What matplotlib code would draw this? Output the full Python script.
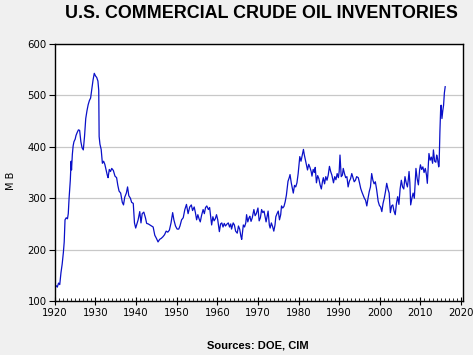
import matplotlib.pyplot as plt
from matplotlib.ticker import MultipleLocator

# readings taken off the chart (year, million barrels)
years = [1920.0, 1920.3, 1920.6, 1920.9, 1921.2, 1921.5, 1921.8, 1922.1, 1922.3, 1922.5,
         1922.8, 1923.1, 1923.3, 1923.5, 1923.8, 1924.0, 1924.1, 1924.3, 1924.5, 1924.7,
         1925.0, 1925.2, 1925.5, 1925.8, 1926.1, 1926.4, 1926.7, 1927.0, 1927.3, 1927.6,
         1927.9, 1928.2, 1928.5, 1928.8, 1929.1, 1929.4, 1929.7, 1930.0, 1930.3, 1930.6,
         1930.8, 1930.9, 1931.1, 1931.4, 1931.7, 1932.0, 1932.3, 1932.6, 1932.9, 1933.1,
         1933.4, 1933.7, 1934.0, 1934.4, 1934.8, 1935.2, 1935.5, 1935.8, 1936.2, 1936.6,
         1936.9, 1937.2, 1937.6, 1937.9, 1938.2, 1938.6, 1938.9, 1939.3, 1939.6, 1939.9,
         1940.2, 1940.5, 1940.9, 1941.2, 1941.5, 1941.9, 1942.3, 1942.6, 1943.0, 1943.4,
         1943.8, 1944.2, 1944.6, 1945.0, 1945.4, 1945.8, 1946.2, 1946.6, 1947.0, 1947.4,
         1947.8, 1948.2, 1948.6, 1949.0, 1949.3, 1949.7, 1950.1, 1950.5, 1950.8, 1951.2,
         1951.6, 1952.0, 1952.4, 1952.8, 1953.2, 1953.6, 1953.9, 1954.3, 1954.6, 1954.9,
         1955.2, 1955.5, 1955.8, 1956.1, 1956.5, 1956.8, 1957.1, 1957.4, 1957.8, 1958.1,
         1958.4, 1958.6, 1958.9, 1959.2, 1959.5, 1959.8, 1960.1, 1960.5, 1960.8, 1961.1,
         1961.4, 1961.7, 1962.0, 1962.4, 1962.7, 1963.0, 1963.3, 1963.5, 1963.9, 1964.2,
         1964.5, 1964.9, 1965.2, 1965.5, 1965.8, 1966.0, 1966.4, 1966.7, 1967.0, 1967.2,
         1967.5, 1967.8, 1968.0, 1968.3, 1968.6, 1969.0, 1969.3, 1969.6, 1970.0, 1970.3,
         1970.6, 1970.9, 1971.2, 1971.5, 1971.8, 1972.0, 1972.3, 1972.5, 1972.8, 1973.0,
         1973.3, 1973.6, 1973.9, 1974.2, 1974.4, 1974.7, 1975.0, 1975.3, 1975.6, 1975.8,
         1976.1, 1976.4, 1976.7, 1977.0, 1977.2, 1977.4, 1977.7, 1977.9, 1978.2, 1978.5,
         1978.7, 1979.0, 1979.3, 1979.6, 1979.9, 1980.1, 1980.3, 1980.6, 1980.9, 1981.2,
         1981.4, 1981.7, 1982.0, 1982.2, 1982.5, 1982.8, 1983.1, 1983.3, 1983.6, 1983.9,
         1984.1, 1984.4, 1984.7, 1985.0, 1985.3, 1985.6, 1985.9, 1986.1, 1986.4, 1986.7,
         1987.0, 1987.3, 1987.6, 1987.9, 1988.2, 1988.6, 1988.9, 1989.2, 1989.5, 1989.8,
         1990.0, 1990.2, 1990.5, 1990.8, 1991.0, 1991.3, 1991.6, 1991.9, 1992.2, 1992.5,
         1992.8, 1993.1, 1993.4, 1993.7, 1994.0, 1994.3, 1994.7, 1995.0, 1995.3, 1995.6,
         1995.9, 1996.2, 1996.5, 1996.8, 1997.1, 1997.4, 1997.7, 1998.0, 1998.3, 1998.6,
         1998.9, 1999.2, 1999.6, 1999.9, 2000.2, 2000.5, 2000.8, 2001.1, 2001.4, 2001.7,
         2002.0, 2002.3, 2002.6, 2002.9, 2003.2, 2003.5, 2003.8, 2004.1, 2004.4, 2004.7,
         2005.0, 2005.3, 2005.6, 2005.9, 2006.2, 2006.5, 2006.8, 2007.0, 2007.2, 2007.4,
         2007.6, 2007.9, 2008.2, 2008.5, 2008.9, 2009.2, 2009.5, 2009.8, 2010.0, 2010.3,
         2010.6, 2010.9, 2011.2, 2011.5, 2011.7, 2012.0, 2012.1, 2012.4, 2012.7, 2013.0,
         2013.2, 2013.5, 2013.8, 2014.0, 2014.2, 2014.5, 2014.6, 2014.8, 2015.0, 2015.1,
         2015.3, 2015.5, 2015.7, 2015.9, 2016.1]

mb = [128, 130, 127, 135, 132, 155, 172, 195, 215, 258,
      262, 260, 270, 300, 335, 372, 355, 385, 402, 410,
      415, 422, 428, 433, 432, 410, 398, 394, 420, 455,
      470, 482, 490, 495, 512, 530, 543, 538, 535, 528,
      510, 420, 405, 395, 368, 372, 366, 355, 345, 340,
      356, 352, 358, 354, 343, 340, 325, 314, 310, 292,
      287, 302, 310, 322, 305, 300, 292, 290, 252, 242,
      250, 258, 274, 252, 270, 273, 262, 251, 250, 248,
      246, 244, 228, 222, 215, 220, 222, 225, 229, 236,
      234, 238, 252, 272, 258, 246, 240, 240, 246, 258,
      262, 278, 288, 270, 283, 287, 276, 283, 272, 258,
      268, 260, 254, 266, 278, 270, 282, 285, 278, 282,
      262, 248, 264, 256, 260, 268, 258, 235, 250, 252,
      244, 251, 246, 250, 252, 244, 250, 240, 252, 248,
      236, 232, 246, 240, 226, 220, 248, 244, 252, 268,
      254, 262, 265, 255, 262, 278, 266, 270, 281, 256,
      262, 278, 272, 275, 262, 254, 266, 275, 248, 242,
      252, 245, 236, 248, 264, 270, 275, 258, 268, 285,
      281, 284, 293, 306, 320, 333, 340, 346, 330, 318,
      310, 325, 322, 330, 348, 365, 381, 372, 383, 395,
      385, 374, 362, 355, 366, 360, 352, 343, 356, 350,
      360, 330, 344, 338, 326, 318, 333, 340, 328, 342,
      335, 345, 362, 352, 345, 330, 342, 336, 348, 340,
      352, 384, 342, 345, 358, 348, 340, 342, 322, 333,
      338, 348, 340, 332, 335, 342, 340, 330, 319, 312,
      306, 300, 296, 285, 300, 313, 322, 348, 335, 328,
      332, 318, 294, 286, 283, 274, 290, 300, 313, 329,
      318, 310, 272, 285, 287, 275, 268, 290, 303, 288,
      318, 335, 322, 318, 342, 330, 322, 335, 352, 330,
      287, 300, 310, 300, 358, 338, 326, 355, 365, 356,
      361, 350, 358, 345, 329, 372, 387, 374, 380, 368,
      394, 372, 370, 384, 378, 361, 365, 430, 478, 481,
      455, 470, 481, 505, 517]

bg = '#f0f0f0'

fig = plt.figure(figsize=(4.73, 3.55), dpi=100, facecolor=bg)
ax = fig.add_axes([0.116, 0.152, 0.863, 0.724])
ax.set_facecolor('white')

ax.plot(years, mb, color='#0a10c8', linewidth=0.9)

ax.set_xlim(1920, 2020.5)
ax.set_ylim(100, 600)
ax.set_xticks(range(1920, 2021, 10))
ax.xaxis.set_minor_locator(MultipleLocator(1))
ax.set_yticks(range(100, 601, 100))
ax.yaxis.grid(True, color='#c8c8c8', linewidth=0.9)
ax.set_axisbelow(True)

ax.tick_params(axis='x', which='major', direction='inout', length=6, width=0.8,
               labelsize=7.3, pad=2)
ax.tick_params(axis='x', which='minor', direction='in', length=2.5, width=0.6)
ax.tick_params(axis='y', which='major', direction='out', length=4, width=0.8,
               labelsize=7.3, pad=2)
for s in ax.spines.values():
    s.set_linewidth(1.0)

fig.text(0.553, 0.962, 'U.S. COMMERCIAL CRUDE OIL INVENTORIES', ha='center', va='center',
         fontsize=12.9, fontweight='bold', family='Liberation Sans')
fig.text(0.023, 0.49, 'M B', rotation=90, ha='center', va='center', fontsize=7)
fig.text(0.545, 0.028, 'Sources: DOE, CIM', ha='center', va='center',
         fontsize=8, fontweight='bold', family='Liberation Sans')

fig.savefig('out.png', dpi=100, facecolor=bg)
